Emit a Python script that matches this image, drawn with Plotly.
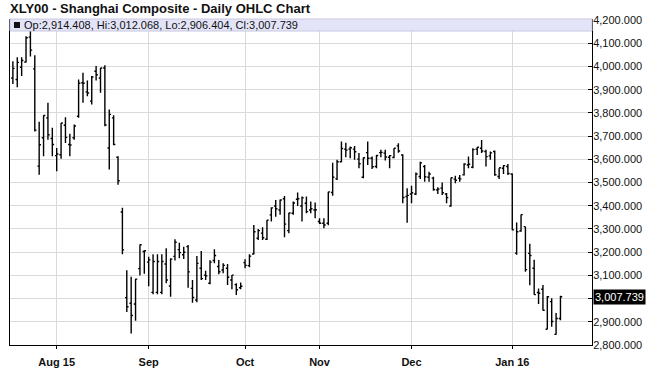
import plotly.graph_objects as go

# Trading days per month (Jul 2015 - Jan 2016)
months = [("2015-07", [20, 21, 22, 23, 24, 27, 28, 29, 30, 31]),
          ("2015-08", [3, 4, 5, 6, 7, 10, 11, 12, 13, 14, 17, 18, 19, 20, 21, 24, 25, 26, 27, 28, 31]),
          ("2015-09", [1, 2, 3, 4, 7, 8, 9, 10, 11, 14, 15, 16, 17, 18, 21, 22, 23, 24, 25, 28, 29, 30]),
          ("2015-10", [8, 9, 12, 13, 14, 15, 16, 19, 20, 21, 22, 23, 26, 27, 28, 29, 30]),
          ("2015-11", [2, 3, 4, 5, 6, 9, 10, 11, 12, 13, 16, 17, 18, 19, 20, 23, 24, 25, 26, 27, 30]),
          ("2015-12", [1, 2, 3, 4, 7, 8, 9, 10, 11, 14, 15, 16, 17, 18, 21, 22, 23, 24, 25, 28, 29, 30, 31]),
          ("2016-01", [4, 5, 6, 7, 8, 11, 12, 13, 14, 15, 18, 19])]
month_labels = ["", "Aug 15", "Sep", "Oct", "Nov", "Dec", "Jan 16"]

opens = [3951, 3944, 3997, 4020, 4127, 3990, 3571, 3693, 3779, 3690,
         3616, 3620, 3747, 3664, 3693, 3786, 3930, 3891, 3851, 3980, 3951, 3994, 3649, 3779, 3609,
         3373, 3004, 2980, 2977, 3129, 3203,
         3157, 3027, 3027, 3027, 3149, 3054, 3182, 3211, 3189, 3224, 3044, 2994, 3131, 3101, 3066,
         3164, 3138, 3123, 3131, 3080, 3060, 3047,
         3155, 3142, 3192, 3260, 3282, 3256, 3361, 3399, 3382, 3430, 3293, 3368, 3428, 3399, 3411,
         3382, 3382,
         3332, 3325, 3325, 3457, 3516, 3590, 3644, 3644, 3644, 3601, 3523, 3629, 3605, 3569, 3629,
         3627, 3609, 3608, 3658, 3619, 3440,
         3451, 3451, 3526, 3569, 3523, 3519, 3468, 3476, 3451, 3399, 3515, 3519, 3533, 3576, 3566,
         3644, 3648, 3634, 3615, 3634, 3526, 3562, 3569,
         3537, 3196, 3291, 3310, 3195, 3131, 3026, 3040, 2868, 2987, 2846, 2914.408]
highs = [4023, 4040, 4040, 4131, 4185, 4049, 3762, 3790, 3844, 3736,
         3649, 3757, 3782, 3710, 3750, 3944, 3973, 3940, 3959, 4002, 3994, 4006, 3815, 3790, 3614,
         3391, 3122, 3094, 3085, 3233, 3207,
         3180, 3191, 3191, 3191, 3217, 3174, 3256, 3241, 3223, 3231, 3080, 3184, 3205, 3120, 3165,
         3213, 3166, 3152, 3149, 3102, 3066, 3069,
         3170, 3191, 3317, 3300, 3307, 3339, 3394, 3425, 3427, 3442, 3370, 3418, 3457, 3440, 3440,
         3418, 3414,
         3346, 3346, 3461, 3586, 3598, 3677, 3672, 3655, 3658, 3627, 3608, 3677, 3612, 3619, 3641,
         3641, 3619, 3648, 3670, 3622, 3476,
         3486, 3543, 3590, 3576, 3547, 3525, 3480, 3500, 3455, 3521, 3529, 3533, 3583, 3612, 3648,
         3652, 3684, 3641, 3634, 3638, 3562, 3576, 3580,
         3539, 3328, 3362, 3310, 3236, 3167, 3044, 3059, 3011, 3001, 2938, 3012.068]
lows = [3925, 3911, 3959, 4018, 4043, 3720, 3534, 3614, 3685, 3614,
        3549, 3603, 3671, 3614, 3685, 3779, 3844, 3872, 3836, 3940, 3887, 3743, 3556, 3661, 3491,
        3191, 2942, 2850, 2905, 3100, 3107,
        3053, 3019, 3019, 3019, 3066, 3008, 3164, 3174, 3171, 3047, 2982, 2984, 3080, 3080, 3062,
        3152, 3105, 3109, 3059, 3040, 3016, 3040,
        3131, 3135, 3190, 3253, 3253, 3253, 3332, 3353, 3361, 3264, 3282, 3361, 3399, 3332, 3368,
        3368, 3346,
        3322, 3303, 3316, 3443, 3511, 3588, 3609, 3605, 3598, 3562, 3519, 3576, 3558, 3562, 3609,
        3595, 3562, 3605, 3629, 3411, 3327,
        3411, 3447, 3515, 3504, 3504, 3465, 3451, 3447, 3411, 3396, 3497, 3504, 3530, 3562, 3562,
        3619, 3627, 3569, 3598, 3529, 3515, 3537, 3533,
        3295, 3189, 3288, 3116, 3057, 3017, 2977, 2949, 2868, 2879, 2844, 2906.404]
closes = [3992, 4018, 4026, 4124, 4071, 3726, 3663, 3789, 3706, 3664,
          3623, 3757, 3695, 3662, 3744, 3928, 3928, 3886, 3955, 3965, 3994, 3748, 3794, 3664, 3508,
          3210, 2965, 2927, 3084, 3232, 3206,
          3167, 3160, 3160, 3160, 3080, 3170, 3243, 3198, 3200, 3115, 3005, 3152, 3086, 3098, 3157,
          3186, 3116, 3143, 3092, 3101, 3038, 3053,
          3143, 3183, 3288, 3293, 3262, 3338, 3391, 3387, 3425, 3321, 3369, 3412, 3430, 3434, 3375,
          3387, 3383,
          3325, 3317, 3460, 3523, 3590, 3647, 3640, 3650, 3633, 3581, 3607, 3605, 3568, 3617, 3630,
          3610, 3616, 3648, 3636, 3436, 3445,
          3456, 3537, 3585, 3525, 3537, 3470, 3472, 3456, 3435, 3521, 3510, 3516, 3580, 3579, 3642,
          3652, 3636, 3612, 3628, 3534, 3564, 3573, 3539,
          3296, 3288, 3362, 3125, 3186, 3017, 3023, 2950, 3008, 2901, 2914, 3007.739]

y_ticks = [2800, 2900, 3000, 3100, 3200, 3300, 3400, 3500, 3600, 3700, 3800, 3900, 4000, 4100, 4200]

dates = []
tick_pos, tick_text = [], []
for (ym, days), lab in zip(months, month_labels):
    if lab:
        tick_pos.append(len(dates))
        tick_text.append(lab)
    dates += [f"{ym}-{d:02d}" for d in days]
xs = list(range(len(dates)))

last_close = closes[-1]
# the last-price flag covers the tick label that lies under it
y_text = ["" if abs(v - last_close) < 40 else f"{v:,.3f}" for v in y_ticks]

fig = go.Figure(go.Ohlc(
    x=xs, open=opens, high=highs, low=lows, close=closes,
    increasing=dict(line=dict(color="black", width=1.4)),
    decreasing=dict(line=dict(color="black", width=1.4)),
    tickwidth=0.4, hovertext=dates, showlegend=False,
))

fig.update_layout(
    width=650, height=386,
    margin=dict(l=10, r=58, t=19, b=41, autoexpand=False),
    paper_bgcolor="white", plot_bgcolor="white",
    font=dict(family="Liberation Sans, Arial, sans-serif", color="#111"),
    title=dict(text="<b>XLY00 - Shanghai Composite - Daily OHLC Chart</b>",
               x=10 / 650, xref="container", xanchor="left", y=1 - 8.5 / 386, yanchor="middle",
               font=dict(size=13, color="#111")),
    xaxis=dict(range=[-0.66, 132.2], tickvals=tick_pos, ticktext=tick_text,
               showgrid=True, gridcolor="#dadada", gridwidth=1,
               showline=True, linecolor="black", linewidth=1,
               ticks="outside", ticklen=3, tickcolor="black", automargin=False,
               ticklabelstandoff=4,
               tickfont=dict(size=11, color="#111", family="Liberation Sans, Arial, sans-serif", weight="bold"),
               rangeslider=dict(visible=False), zeroline=False, fixedrange=True),
    yaxis=dict(range=[2800, 4205], side="right", tickvals=y_ticks, ticktext=y_text,
               showgrid=True, gridcolor="#dadada", gridwidth=1,
               showline=True, linecolor="black", linewidth=1, mirror=True,
               ticks="inside", ticklen=4, tickcolor="black", automargin=False,
               ticklabelstandoff=-2,
               tickfont=dict(size=11, color="#111"), zeroline=False, fixedrange=True),
)

# legend strip over the top of the plot
fig.add_shape(type="rect", xref="paper", yref="paper", x0=0, x1=1, y0=1 - 12 / 326, y1=1,
              fillcolor="#e4e4f8", line=dict(color="#c8c8e0", width=1), layer="above")
fig.add_shape(type="rect", xref="paper", yref="paper", x0=4 / 582, x1=10 / 582,
              y0=1 - 9 / 326, y1=1 - 3 / 326, fillcolor="#111", line=dict(width=0), layer="above")
info = (f"Op:{opens[-1]:,.3f}, Hi:{highs[-1]:,.3f}, "
        f"Lo:{lows[-1]:,.3f}, Cl:{closes[-1]:,.3f}")
fig.add_annotation(text=info, xref="paper", yref="paper", x=12 / 582, y=1 - 6 / 326,
                   xanchor="left", yanchor="middle", showarrow=False,
                   font=dict(size=11, color="#111"))

# last price marker on the right axis
fig.add_annotation(text=f"{last_close:,.3f}", xref="paper", yref="y", x=1, y=last_close,
                   xanchor="left", yanchor="middle", showarrow=False, xshift=1,
                   bgcolor="black", font=dict(size=11, color="white"), borderpad=1)

fig.write_html("out.html", config={"displayModeBar": False},
               post_script="document.body.style.margin='0px';")
